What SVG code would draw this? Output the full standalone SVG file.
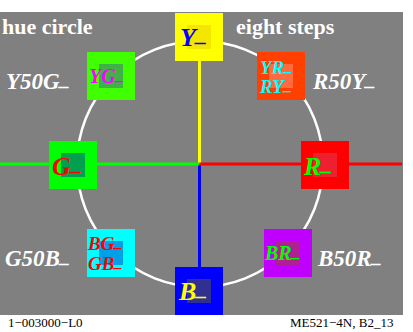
<svg xmlns="http://www.w3.org/2000/svg" width="413" height="332" viewBox="0 0 413 332">
<style>
text{font-family:"Liberation Serif","Times New Roman",serif}
.t{font-weight:bold;fill:#fff;font-size:22px}
.lab{font-weight:bold;font-style:italic;fill:#fff;font-size:23px}
.n{font-weight:bold;font-style:italic}
.foot{font-size:13px;fill:#000}
</style>
<rect x="0" y="0" width="413" height="332" fill="#fff"/>
<rect x="0" y="12" width="403" height="303" fill="#808080"/>
<circle cx="200" cy="164" r="123" fill="none" stroke="#fff" stroke-width="2.5"/>
<g id="connectors" stroke-width="3">
<line x1="199.5" y1="61" x2="199.5" y2="164" stroke="#ffff00"/>
<line x1="199.5" y1="164" x2="199.5" y2="267" stroke="#0000ff"/>
<line x1="0" y1="164" x2="199.5" y2="164" stroke="#00ff00"/>
<line x1="199.5" y1="164" x2="402" y2="164" stroke="#ff0000"/>
</g>
<text class="t" x="2" y="34">hue circle</text>
<text class="t" x="236" y="34">eight steps</text>
<text class="lab" x="6" y="89">Y50G<tspan dy="-4" font-size="20">_</tspan></text>
<text class="lab" x="313" y="89">R50Y<tspan dy="-4" font-size="20">_</tspan></text>
<text class="lab" x="5" y="266">G50B<tspan dy="-4" font-size="20">_</tspan></text>
<text class="lab" x="318" y="266">B50R<tspan dy="-4" font-size="20">_</tspan></text>
<g id="Y">
<rect x="175" y="13" width="48" height="48" fill="#ffff00"/>
<rect x="187" y="25" width="24" height="24" fill="#f5e600"/>
<text class="n" x="180" y="46" font-size="26" fill="#0000ff">Y<tspan dy="-5" font-size="22">_</tspan></text>
</g>
<g id="YG">
<rect x="87" y="52" width="48" height="48" fill="#40ff00"/>
<rect x="99" y="64" width="24" height="24" fill="#40b048"/>
<text class="n" x="89" y="83" font-size="20" fill="#ff00ff">YG<tspan dy="-3" font-size="17">_</tspan></text>
</g>
<g id="YR">
<rect x="257" y="52" width="48" height="48" fill="#ff4000"/>
<rect x="269" y="64" width="24" height="24" fill="#ff6a40"/>
<text class="n" x="260" y="74" font-size="19" fill="#00ffff">YR<tspan dy="-3" font-size="16">_</tspan></text>
<text class="n" x="260" y="93" font-size="19" fill="#00ffff">RY<tspan dy="-3" font-size="16">_</tspan></text>
</g>
<g id="G">
<rect x="49" y="141" width="48" height="48" fill="#00ff00"/>
<rect x="61" y="153" width="24" height="24" fill="#00a050"/>
<text class="n" x="52" y="175" font-size="26" fill="#ff0000">G<tspan dy="-5" font-size="22">_</tspan></text>
</g>
<g id="R">
<rect x="301" y="141" width="48" height="48" fill="#ff0000"/>
<rect x="313" y="153" width="24" height="24" fill="#ee2030"/>
<text class="n" x="304" y="175" font-size="26" fill="#00ff00">R<tspan dy="-5" font-size="22">_</tspan></text>
</g>
<g id="BG">
<rect x="87" y="229" width="48" height="48" fill="#00ffff"/>
<rect x="99" y="241" width="24" height="24" fill="#00a0e8"/>
<text class="n" x="88" y="250" font-size="19" fill="#ff0000">BG<tspan dy="-3" font-size="16">_</tspan></text>
<text class="n" x="88" y="270" font-size="19" fill="#ff0000">GB<tspan dy="-3" font-size="16">_</tspan></text>
</g>
<g id="BR">
<rect x="264" y="229" width="48" height="48" fill="#c000ff"/>
<rect x="276" y="241" width="24" height="24" fill="#b02090"/>
<text class="n" x="265" y="260" font-size="20" fill="#00ff00">BR<tspan dy="-3" font-size="17">_</tspan></text>
</g>
<g id="B">
<rect x="175" y="267" width="48" height="48" fill="#0000ff"/>
<rect x="187" y="279" width="24" height="24" fill="#303090"/>
<text class="n" x="179" y="300" font-size="26" fill="#ffff00">B<tspan dy="-5" font-size="22">_</tspan></text>
</g>
<text class="foot" x="8" y="327">1−003000−L0</text>
<text class="foot" x="290" y="327">ME521−4N, B2_13</text>
</svg>
